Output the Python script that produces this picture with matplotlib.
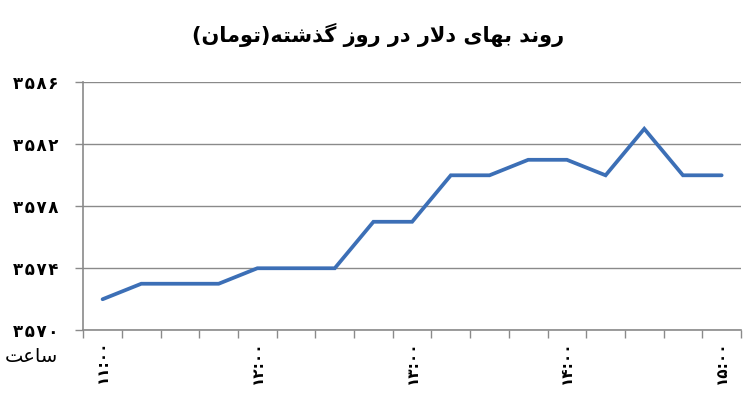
import matplotlib
matplotlib.use('agg')
import matplotlib.pyplot as plt

# dollar price (toman), every 15 minutes from 11:00 to 15:00
prices = [3572, 3573, 3573, 3573, 3574, 3574, 3574, 3577, 3577,
          3580, 3580, 3581, 3581, 3580, 3583, 3580, 3580]
hour_labels = ['۱۱:۰۰', '۱۲:۰۰', '۱۳:۰۰', '۱۴:۰۰', '۱۵:۰۰']
y_ticks = [3570, 3574, 3578, 3582, 3586]
title = 'روند بهای دلار در روز گذشته(تومان)'
x_name = 'ساعت'

# presentation forms: isolated, final, initial, medial
FORMS = {
    'ا': ('\uFE8D', '\uFE8E', None, None),
    'ب': ('\uFE8F', '\uFE90', '\uFE91', '\uFE92'),
    'ت': ('\uFE95', '\uFE96', '\uFE97', '\uFE98'),
    'د': ('\uFEA9', '\uFEAA', None, None),
    'ذ': ('\uFEAB', '\uFEAC', None, None),
    'ر': ('\uFEAD', '\uFEAE', None, None),
    'ز': ('\uFEAF', '\uFEB0', None, None),
    'س': ('\uFEB1', '\uFEB2', '\uFEB3', '\uFEB4'),
    'ش': ('\uFEB5', '\uFEB6', '\uFEB7', '\uFEB8'),
    'ع': ('\uFEC9', '\uFECA', '\uFECB', '\uFECC'),
    'ل': ('\uFEDD', '\uFEDE', '\uFEDF', '\uFEE0'),
    'م': ('\uFEE1', '\uFEE2', '\uFEE3', '\uFEE4'),
    'ن': ('\uFEE5', '\uFEE6', '\uFEE7', '\uFEE8'),
    'ه': ('\uFEE9', '\uFEEA', '\uFEEB', '\uFEEC'),
    'و': ('\uFEED', '\uFEEE', None, None),
    'ی': ('\uFBFC', '\uFBFD', '\uFBFE', '\uFBFF'),
    'گ': ('\uFB92', '\uFB93', '\uFB94', '\uFB95'),
}
MIRROR = {'(': ')', ')': '('}


def shape(text):
    # join letters, lam-alef ligature, then reverse for display
    out = []
    i = 0
    n = len(text)
    while i < n:
        c = text[i]
        if c not in FORMS:
            out.append(MIRROR.get(c, c))
            i += 1
            continue
        prev = text[i - 1] if i > 0 else ''
        joins_prev = prev in FORMS and FORMS[prev][2] is not None
        if c == 'ل' and i + 1 < n and text[i + 1] == 'ا':
            out.append('\uFEFC' if joins_prev else '\uFEFB')
            i += 2
            continue
        nxt = text[i + 1] if i + 1 < n else ''
        joins_next = nxt in FORMS and FORMS[c][2] is not None
        iso, fin, ini, med = FORMS[c]
        if joins_prev and joins_next:
            out.append(med)
        elif joins_prev:
            out.append(fin)
        elif joins_next:
            out.append(ini)
        else:
            out.append(iso)
        i += 1
    return ''.join(reversed(out))


def fa_digits(s):
    return s.translate(str.maketrans('0123456789', '۰۱۲۳۴۵۶۷۸۹'))


plt.rcParams['font.family'] = ['DejaVu Sans']

fig = plt.figure(figsize=(7.5, 4.18), dpi=100)
ax = fig.add_axes([0.111, 0.21, 0.877, 0.593])

x = list(range(len(prices)))
ax.plot(x, prices, color='#3C6FB6', linewidth=2.7, solid_joinstyle='miter',
        solid_capstyle='round', zorder=3)

ax.set_xlim(-0.5, len(prices) - 0.5)
ax.set_ylim(y_ticks[0], y_ticks[-1])

ax.set_yticks(y_ticks)
ax.set_yticklabels(['\u200a'.join(fa_digits(str(v))) for v in y_ticks],
                   fontsize=12, fontweight='bold')
ax.yaxis.grid(True, color='#8A8A8A', linewidth=1.0)
ax.set_axisbelow(True)

ax.set_xticks([k - 0.5 for k in range(len(prices) + 1)])
ax.set_xticklabels([])
ax.set_xticks(x[::4], minor=True)
ax.set_xticklabels(hour_labels, minor=True, rotation=90, fontsize=11,
                   fontweight='bold')
ax.tick_params(axis='x', which='major', length=6, color='#8A8A8A', width=1)
ax.tick_params(axis='x', which='minor', length=0, pad=7)
ax.tick_params(axis='y', length=6, color='#8A8A8A', width=1, pad=12)

for s in ['top', 'right']:
    ax.spines[s].set_visible(False)
for s in ['left', 'bottom']:
    ax.spines[s].set_color('#8A8A8A')
    ax.spines[s].set_linewidth(1.2)

fig.text(0.504, 0.916, shape(title), ha='center', va='center', fontsize=15,
         fontweight='bold')
fig.text(0.042, 0.146, shape(x_name), ha='center', va='center', fontsize=14)

fig.savefig('out.png', dpi=100)
